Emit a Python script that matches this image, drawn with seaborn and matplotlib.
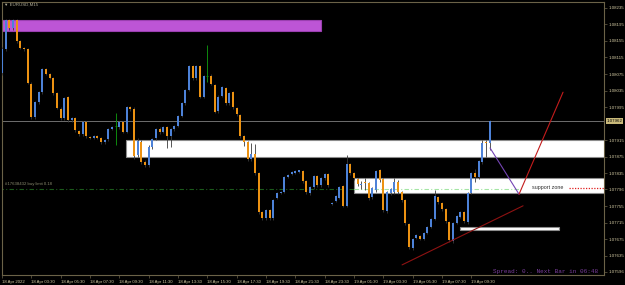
import numpy as np
import pandas as pd
import matplotlib
matplotlib.use("Agg")
import matplotlib.pyplot as plt
import matplotlib.transforms as mtransforms
from matplotlib.patches import Rectangle
import seaborn as sns

# ---------------- data (EURUSD M15) ----------------
opens = [1.08077, 1.08135, 1.08206, 1.08186, 1.08206, 1.08155, 1.08138, 1.08135, 1.08051, 1.07971,
         1.08007, 1.08031, 1.08087, 1.08075, 1.08065, 1.08029, 1.07990, 1.07968, 1.08019, 1.07964,
         1.07968, 1.07937, 1.07930, 1.07959, 1.07923, 1.07920, 1.07925, 1.07920, 1.07910, 1.07918,
         1.07942, 1.07948, 1.07947, 1.07959, 1.07935, 1.07995, 1.07990, 1.07879, 1.07911, 1.07862,
         1.07855, 1.07898, 1.07920, 1.07942, 1.07935, 1.07946, 1.07925, 1.07942, 1.07949, 1.07973,
         1.08004, 1.08036, 1.08094, 1.08065, 1.08094, 1.08020, 1.08071, 1.08070, 1.08048, 1.07985,
         1.08022, 1.08040, 1.08005, 1.08031, 1.07993, 1.07976, 1.07925, 1.07910, 1.07869, 1.07881,
         1.07835, 1.07741, 1.07726, 1.07746, 1.07726, 1.07775, 1.07787, 1.07789, 1.07826, 1.07833,
         1.07835, 1.07839, 1.07840, 1.07816, 1.07787, 1.07801, 1.07828, 1.07806, 1.07823, 1.07833,
         1.07760, 1.07768, 1.07775, 1.07804, 1.07756, 1.07857, 1.07835, 1.07821, 1.07806, 1.07811,
         1.07811, 1.07777, 1.07794, 1.07843, 1.07821, 1.07743, 1.07787, 1.07789, 1.07814, 1.07789,
         1.07770, 1.07712, 1.07654, 1.07678, 1.07683, 1.07676, 1.07690, 1.07705, 1.07724, 1.07777,
         1.07763, 1.07748, 1.07717, 1.07671, 1.07714, 1.07729, 1.07741, 1.07717, 1.07787, 1.07835,
         1.07826, 1.07862, 1.07908, 1.07908]
highs = [1.08140, 1.08208, 1.08208, 1.08208, 1.08208, 1.08158, 1.08140, 1.08138, 1.08055, 1.08010,
         1.08034, 1.08090, 1.08090, 1.08078, 1.08068, 1.08032, 1.07994, 1.08020, 1.08022, 1.07972,
         1.07972, 1.07940, 1.07962, 1.07962, 1.07926, 1.07928, 1.07928, 1.07923, 1.07918, 1.07945,
         1.07950, 1.07981, 1.07962, 1.07962, 1.07998, 1.07998, 1.07994, 1.07920, 1.07916, 1.07866,
         1.07903, 1.07921, 1.07945, 1.07946, 1.07950, 1.07950, 1.07944, 1.07952, 1.07976, 1.08007,
         1.08039, 1.08097, 1.08097, 1.08097, 1.08097, 1.08073, 1.08145, 1.08074, 1.08052, 1.08024,
         1.08046, 1.08044, 1.08031, 1.08034, 1.07996, 1.07979, 1.07928, 1.07914, 1.07908, 1.07905,
         1.07838, 1.07744, 1.07749, 1.07749, 1.07773, 1.07790, 1.07792, 1.07829, 1.07833, 1.07841,
         1.07843, 1.07843, 1.07843, 1.07819, 1.07804, 1.07831, 1.07831, 1.07826, 1.07836, 1.07836,
         1.07766, 1.07783, 1.07804, 1.07807, 1.07879, 1.07860, 1.07838, 1.07824, 1.07816, 1.07823,
         1.07814, 1.07802, 1.07843, 1.07846, 1.07824, 1.07792, 1.07800, 1.07824, 1.07818, 1.07792,
         1.07773, 1.07715, 1.07679, 1.07688, 1.07686, 1.07693, 1.07708, 1.07727, 1.07794, 1.07780,
         1.07766, 1.07751, 1.07720, 1.07717, 1.07734, 1.07744, 1.07744, 1.07790, 1.07838, 1.07845,
         1.07867, 1.07915, 1.07915, 1.07964]
lows = [1.08072, 1.08130, 1.08181, 1.08181, 1.08150, 1.08135, 1.08130, 1.08050, 1.07966, 1.07966,
        1.08003, 1.08027, 1.08072, 1.08062, 1.08025, 1.07990, 1.07964, 1.07964, 1.07960, 1.07960,
        1.07935, 1.07926, 1.07926, 1.07921, 1.07917, 1.07917, 1.07917, 1.07906, 1.07906, 1.07914,
        1.07939, 1.07903, 1.07943, 1.07931, 1.07931, 1.07986, 1.07870, 1.07874, 1.07858, 1.07850,
        1.07850, 1.07894, 1.07916, 1.07930, 1.07931, 1.07896, 1.07898, 1.07938, 1.07946, 1.07970,
        1.08000, 1.08033, 1.08061, 1.08061, 1.08016, 1.08016, 1.08056, 1.08048, 1.07980, 1.07981,
        1.08019, 1.08001, 1.08001, 1.07990, 1.07973, 1.07921, 1.07900, 1.07864, 1.07865, 1.07830,
        1.07736, 1.07722, 1.07722, 1.07722, 1.07722, 1.07772, 1.07784, 1.07786, 1.07823, 1.07830,
        1.07832, 1.07836, 1.07812, 1.07785, 1.07783, 1.07797, 1.07802, 1.07802, 1.07819, 1.07802,
        1.07757, 1.07765, 1.07772, 1.07752, 1.07752, 1.07831, 1.07819, 1.07805, 1.07797, 1.07794,
        1.07771, 1.07773, 1.07790, 1.07814, 1.07742, 1.07739, 1.07783, 1.07785, 1.07785, 1.07766,
        1.07710, 1.07651, 1.07650, 1.07675, 1.07673, 1.07673, 1.07687, 1.07702, 1.07721, 1.07761,
        1.07744, 1.07715, 1.07669, 1.07667, 1.07711, 1.07726, 1.07715, 1.07713, 1.07784, 1.07813,
        1.07822, 1.07858, 1.07874, 1.07891]
closes = [1.08135, 1.08206, 1.08186, 1.08206, 1.08155, 1.08138, 1.08135, 1.08053, 1.07971, 1.08007,
          1.08031, 1.08087, 1.08075, 1.08065, 1.08029, 1.07993, 1.07968, 1.08017, 1.07964, 1.07968,
          1.07939, 1.07930, 1.07959, 1.07925, 1.07920, 1.07925, 1.07920, 1.07910, 1.07915, 1.07942,
          1.07947, 1.07948, 1.07958, 1.07935, 1.07995, 1.07990, 1.07876, 1.07913, 1.07862, 1.07855,
          1.07898, 1.07918, 1.07942, 1.07935, 1.07946, 1.07925, 1.07941, 1.07949, 1.07973, 1.08004,
          1.08036, 1.08094, 1.08065, 1.08094, 1.08020, 1.08070, 1.08071, 1.08052, 1.07984, 1.08020,
          1.08043, 1.08005, 1.08028, 1.07994, 1.07977, 1.07925, 1.07911, 1.07869, 1.07881, 1.07835,
          1.07741, 1.07726, 1.07746, 1.07726, 1.07770, 1.07787, 1.07789, 1.07826, 1.07830, 1.07838,
          1.07840, 1.07840, 1.07816, 1.07789, 1.07801, 1.07828, 1.07806, 1.07823, 1.07833, 1.07806,
          1.07763, 1.07780, 1.07801, 1.07756, 1.07857, 1.07835, 1.07823, 1.07809, 1.07807, 1.07810,
          1.07775, 1.07799, 1.07840, 1.07818, 1.07746, 1.07789, 1.07797, 1.07814, 1.07789, 1.07770,
          1.07714, 1.07656, 1.07676, 1.07685, 1.07676, 1.07690, 1.07705, 1.07724, 1.07780, 1.07765,
          1.07748, 1.07719, 1.07673, 1.07714, 1.07731, 1.07741, 1.07719, 1.07787, 1.07835, 1.07826,
          1.07864, 1.07908, 1.07907, 1.07962]

time_ticks = list(range(0, 129, 8))
time_labels = ["18 Apr 2022", "18 Apr 03:30", "18 Apr 05:30", "18 Apr 07:30", "18 Apr 09:30",
               "18 Apr 11:30", "18 Apr 13:30", "18 Apr 15:30", "18 Apr 17:30", "18 Apr 19:30",
               "18 Apr 21:30", "18 Apr 23:30", "19 Apr 01:30", "19 Apr 03:30", "19 Apr 05:30",
               "19 Apr 07:30", "19 Apr 09:30"]
price_ticks = [1.08235, 1.08195, 1.08155, 1.08115, 1.08075, 1.08035, 1.07995, 1.07915,
               1.07875, 1.07835, 1.07796, 1.07755, 1.07715, 1.07675, 1.07635, 1.07596]
price_labels = ["1.08235", "1.08195", "1.08155", "1.08115", "1.08075", "1.08035", "1.07995", "1.07915",
                "1.07875", "1.07835", "1.07796", "1.07755", "1.07715", "1.07675", "1.07635", "1.07596"]
bid_price = 1.07962

# zones: (start bar, end bar, low price, high price)
magenta_zone = (-2, 87.0, 1.08179, 1.08206)
resist_zone = (33.9, 170, 1.07874, 1.07915)
support_zone = (95.9, 170, 1.07786, 1.07823)
small_zone = (124.9, 151.9, 1.07697, 1.07705)
buy_limit_price = 1.07797
trend_x = [109.1, 142.1]
trend_y = [1.07613, 1.07756]
path_x = [133.1, 141.0, 153.0]
path_y = [1.07896, 1.07784, 1.08031]

df = pd.DataFrame({"o": opens, "h": highs, "l": lows, "c": closes})
df["i"] = np.arange(len(df))

# ---------------- style ----------------
sns.set_theme(style="dark", rc={"axes.facecolor": "black", "figure.facecolor": "black"})
plt.rcParams["font.family"] = ["Liberation Sans", "DejaVu Sans"]

BULL = "#4d82d8"
BEAR = "#ec9212"
DOJI = "#0e8a0e"
FRAME = "#6b6248"
LABEL = "#d2c9a2"

fig = plt.figure(figsize=(6.25, 2.85), dpi=100)
ax = fig.add_axes([2 / 625, 10 / 285, 602 / 625, 273.5 / 285])
ax.set_facecolor("black")
ax.grid(False)

# zones
def zone(z, fc, ec, zo=1):
    x0, x1, y0, y1 = z
    ax.add_patch(Rectangle((x0, y0), x1 - x0, y1 - y0, facecolor=fc, edgecolor=ec, lw=0.8, zorder=zo))

zone(magenta_zone, "#bd55d6", "#9a3fb0")
zone(resist_zone, "white", "#8c8c8c")
zone(support_zone, "white", "#8c8c8c")
zone(small_zone, "white", "#8c8c8c")

# bid line
ax.axhline(bid_price, color="#6e6e6e", lw=0.7, zorder=2)

# buy limit line
ax.hlines(buy_limit_price, -2, support_zone[0], color="#1b5a1b", lw=0.8,
          linestyles=[(0, (4, 2, 1, 2))], zorder=2)
ax.hlines(buy_limit_price, support_zone[0], 141.5, color="#a4e6a4", lw=0.8,
          linestyles=[(0, (4, 2, 1, 2))], zorder=2)
ax.hlines(buy_limit_price + 0.00002, 154.5, 164.5, color="#e01e1e", lw=0.9,
          linestyles=[(0, (1, 1.2))], zorder=2)

# candles
doji = df[df.o == df.c]
norm = df[df.o != df.c]
ax.vlines(norm.i, norm.l, norm.h, color="#3a3a3a", lw=0.6, zorder=3)
ax.vlines(doji.i, doji.l, doji.h, color=DOJI, lw=0.7, zorder=3)
ax.hlines(doji.o, doji.i - 0.3, doji.i + 0.3, color=DOJI, lw=0.7, zorder=4)
body_bottom = np.minimum(norm.o, norm.c)
body_h = np.maximum(np.abs(norm.c - norm.o), 0.00003)
colors = [BULL if c > o else BEAR for o, c in zip(norm.o, norm.c)]
ax.bar(norm.i, body_h, bottom=body_bottom, width=0.58, color=colors, linewidth=0, zorder=4)

# trend lines
sns.lineplot(x=trend_x, y=trend_y, ax=ax, color="#8e1212", lw=0.8, zorder=5)
ax.plot(path_x[:2], path_y[:2], color="#7444b4", lw=0.8, zorder=5)
ax.plot(path_x[1:], path_y[1:], color="#c41c1c", lw=0.8, zorder=5)

# texts
ax.text(144.6, buy_limit_price + 0.00004, "support zone", color="#303030", fontsize=3.9,
        va="center", ha="left", zorder=6)
ax.text(0.95, buy_limit_price + 0.00011, "#17638432 buy limit 0.18", color="#8c8c70",
        fontsize=3.1, va="center", ha="left", zorder=6)

# axes
ax.set_xlim(0.14, 164.17)
ax.set_ylim(1.075885, 1.082505)
ax.set_xticks(time_ticks)
ax.set_xticklabels(time_labels)
for lbl in ax.get_xticklabels():
    lbl.set_ha("left")
ax.set_yticks(price_ticks)
ax.set_yticklabels(price_labels)
ax.yaxis.tick_right()
ax.tick_params(axis="y", which="both", right=True, left=False, labelright=True, labelleft=False,
               direction="out", length=2, width=0.5, color=FRAME, labelcolor=LABEL,
               labelsize=3.2, pad=1.5)
ax.tick_params(axis="x", which="both", bottom=True, direction="out", length=2.5, width=0.5,
               color=FRAME, labelcolor=LABEL, labelsize=3.1, pad=1)
for s in ax.spines.values():
    s.set_visible(True)
    s.set_color(FRAME)
    s.set_linewidth(0.8)

# current price box
trans = mtransforms.blended_transform_factory(ax.transAxes, ax.transData)
ax.text(1.004, bid_price, "1.07962", transform=trans, fontsize=3.2, color="black",
        va="center", ha="left", zorder=7,
        bbox=dict(facecolor="#c9b97a", edgecolor="none", pad=0.6), clip_on=False)

fig.text(4 / 625, 1 - 5 / 285, "\u25BC EURUSD,M15", color="#b0ad98", fontsize=3.2,
         va="center", ha="left")
fig.text(493 / 625, 1 - 271 / 285, "Spread: 0.. Next Bar in 06:48", family="Liberation Mono",
         fontsize=4.3, color="#7a3d9c", va="center", ha="left")

fig.savefig("out.png", dpi=100, facecolor="black")
